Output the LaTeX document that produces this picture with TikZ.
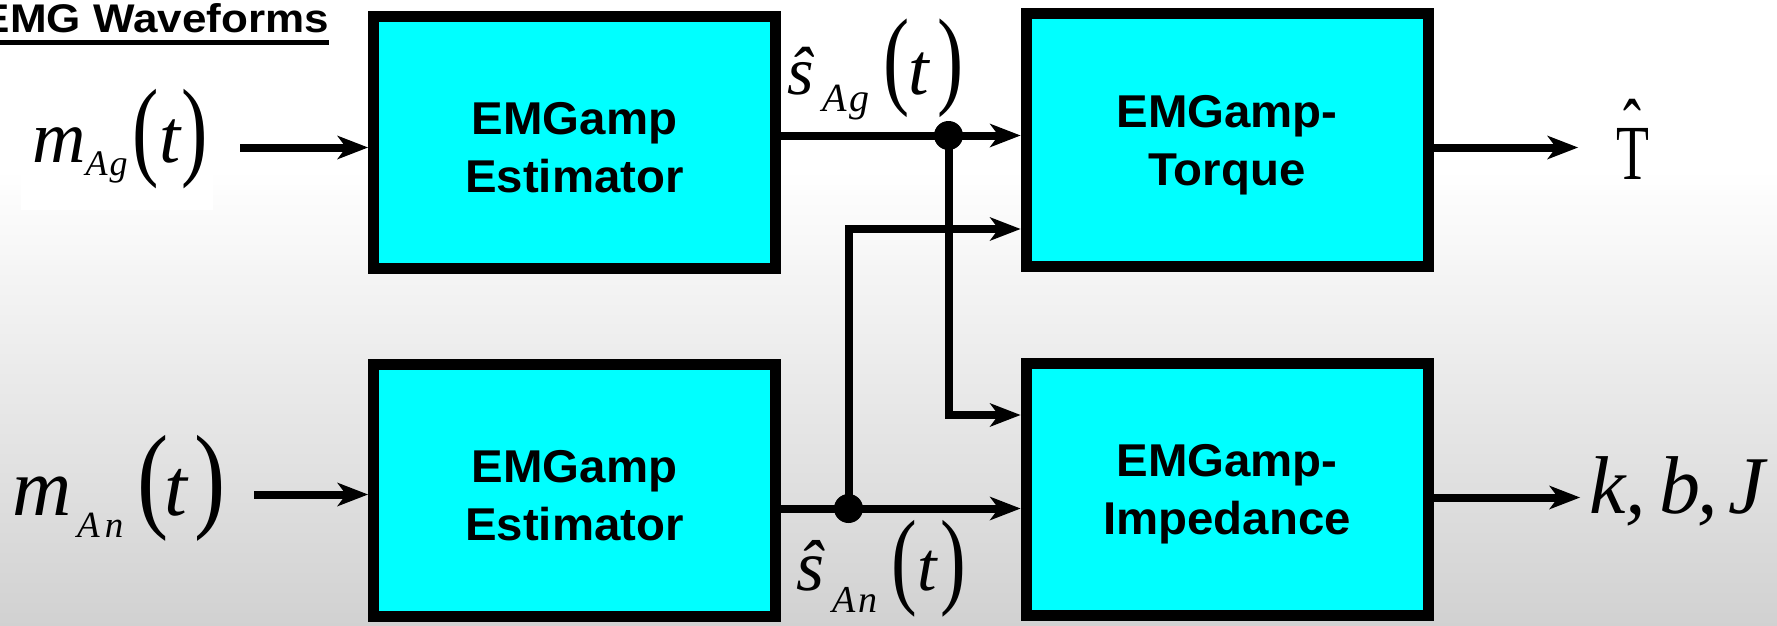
\documentclass[tikz,border=0pt]{standalone}
\usepackage{fontspec}
\usepackage{graphicx}
\setmainfont{Liberation Serif}
\newfontfamily\sansfont{Liberation Sans}
\usetikzlibrary{arrows.meta}
\definecolor{boxcyan}{RGB}{0,255,255}
\newcommand{\fs}[1]{\fontsize{#1}{#1}\selectfont}
\newcommand{\sqz}[3]{\scalebox{#1}[1]{\fs{#2}#3}}
\newcommand{\xstr}[1]{\scalebox{1.03}[1]{#1}}
\newcommand{\strt}{\rule{0pt}{42pt}}
\tikzset{
  blk/.style={draw=black, fill=boxcyan, line width=11pt, minimum width=402pt,
    minimum height=252pt, inner sep=0pt, align=center,
    font=\sansfont\bfseries\fontsize{46}{58}\selectfont},
  conn/.style={draw=black, line width=8pt,
    -{Stealth[length=31pt,width=24pt,inset=9pt,line width=0pt]}},
  dot/.style={circle, fill=black, inner sep=0pt, minimum size=29pt},
  lbl/.style={inner sep=0pt, anchor=base west}
}
\begin{document}
\begin{tikzpicture}[x=1pt,y=-1pt]
\useasboundingbox (0,0) rectangle (1777,626);
% background
\fill[white] (0,0) rectangle (1777,171);
\shade[top color=white, bottom color=black!18] (0,170) rectangle (1777,626);
\fill[white] (21,80) rectangle (213,210);

% title
\node[inner sep=0pt, anchor=base east] (emg) at (329,33)
  {\scalebox{1.1}[1]{\sansfont\bfseries\fs{40}EMG Waveforms}};
\draw[line width=4.5pt] ([yshift=-9.5pt]emg.base west) -- ([yshift=-9.5pt]emg.base east);

% blocks
\node[blk] (b1) at (574.5,142.5) {\strt\xstr{EMGamp}\\\xstr{Estimator}};
\node[blk] (b2) at (1227,140) {\strt\xstr{EMGamp-}\\\xstr{Torque}};
\node[blk] (b3) at (574.5,490.5) {\strt\xstr{EMGamp}\\\xstr{Estimator}};
\node[blk] (b4) at (1227,489) {\strt\xstr{EMGamp-}\\\xstr{Impedance}};

% labels
\node[lbl] (mAg) at (32,162)
  {{\fs{74}\itshape m}\raisebox{-13pt}{\fs{36}\itshape A\kern2pt g}\kern5pt\raisebox{-3pt}{\sqz{0.72}{110}{(}}{\fs{76}\itshape t}\kern1pt\raisebox{-3pt}{\sqz{0.72}{110}{)}}};
\node[lbl] (mAn) at (12,515)
  {{\fs{82}\itshape m}\kern5.8pt\raisebox{-22pt}{\fs{37}\itshape A\kern5pt n}\kern14pt\raisebox{-1pt}{\sqz{0.8}{117}{(}}\kern-3.5pt{\fs{82}\itshape t}\kern6.5pt\raisebox{-1pt}{\sqz{0.8}{117}{)}}};
\node[lbl] (sAg) at (787,95)
  {{\fs{68}\itshape ŝ}\kern8.5pt\raisebox{-17pt}{\fs{40}\itshape A\kern3pt g}\kern14pt{\sqz{0.72}{109}{(}}\kern-1pt{\fs{74}\itshape t}\kern8pt{\sqz{0.72}{109}{)}}};
\node[lbl] (sAn) at (796,590)
  {{\fs{72}\itshape ŝ}\kern8pt\raisebox{-22pt}{\fs{38}\itshape A\kern3pt n}\kern14pt\raisebox{-4pt}{\sqz{0.72}{107}{(}}{\fs{70}\itshape t}\kern4pt\raisebox{-4pt}{\sqz{0.72}{107}{)}}};
\node[lbl] (That) at (1616,179)
  {\scalebox{0.69}[1]{\fs{78}\setbox0=\hbox{T}\rlap{\hbox to\wd0{\hss\raisebox{26pt}{\char"02C6}\hss}}\box0}};
\node[lbl] (kbJ) at (1589,513)
  {\fs{82}\itshape k,\kern13pt b\kern-2.5pt,\kern10pt J};

% junction dots
\node[dot] (d1) at (948.5,135.5) {};
\node[dot] (d2) at (848.5,508.5) {};

% connector coordinates
\coordinate (inA) at (240,147.5);
\coordinate (inN) at (254,494.5);
\coordinate (rowA) at (0,135.5);
\coordinate (rowN) at (0,508.5);
\coordinate (brA) at (0,415);
\coordinate (brN) at (0,229);
\coordinate (outT) at (1578,147.5);
\coordinate (outK) at (1580,497.5);

% connectors
\draw[conn] (inA) -- (inA -| b1.west);
\draw[conn] (inN) -- (inN -| b3.west);
\draw[conn] (b1.east |- rowA) -- (b2.west |- rowA);
\draw[conn] (b3.east |- rowN) -- (b4.west |- rowN);
\draw[conn] (d1.center) |- (b4.west |- brA);
\draw[conn] (d2.center) |- (b2.west |- brN);
\draw[conn] (b2.east |- outT) -- (outT);
\draw[conn] (b4.east |- outK) -- (outK);
\end{tikzpicture}
\end{document}
